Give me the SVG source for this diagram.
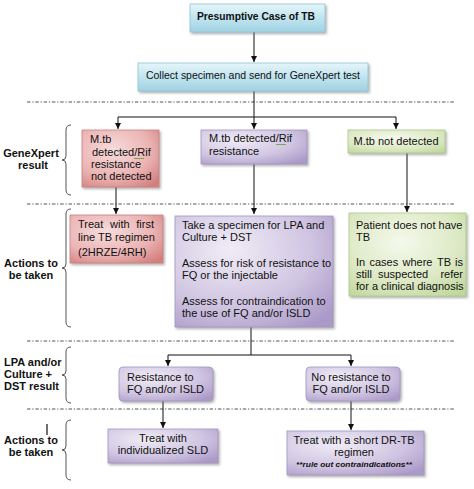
<svg xmlns="http://www.w3.org/2000/svg" width="474" height="489" viewBox="0 0 474 489">
<defs>
<style>
.t{font-family:"Liberation Sans",Arial,sans-serif;font-size:11px;fill:#111}
.b{font-weight:bold}
.c{text-anchor:middle}
.e{text-anchor:end}
.lbl{font-family:"Liberation Sans",Arial,sans-serif;font-size:11px;font-weight:bold;fill:#111;text-anchor:middle}
.dash{stroke:#555;stroke-width:1;stroke-dasharray:3.5,1.8,1.2,1.8;fill:none}
.brace{stroke:#555;stroke-width:1;fill:none}
.con{stroke:#111;stroke-width:1;fill:none}
.arr{marker-end:url(#ah)}
.blue{fill:url(#gBlue);stroke:#8fc3d4;stroke-width:0.8}
.red{fill:url(#gRed);stroke:#c98080;stroke-width:0.8}
.pur{fill:url(#gPur);stroke:#a294c0;stroke-width:0.8}
.grn{fill:url(#gGrn);stroke:#aec78a;stroke-width:0.8}
.box{filter:url(#sh)}
.wavy{stroke:#5e9e32;stroke-width:0.8;fill:none}
</style>
<marker id="ah" viewBox="0 0 6 6" refX="6" refY="3" markerWidth="6" markerHeight="6" markerUnits="userSpaceOnUse" orient="auto">
<path d="M0,0 L6,3 L0,6 z" fill="#111"/>
</marker>
<linearGradient id="gBlue" x1="0" y1="0" x2="0" y2="1">
<stop offset="0" stop-color="#e6f5fa"/>
<stop offset="0.5" stop-color="#c0e4ef"/>
<stop offset="1" stop-color="#a0d2e2"/>
</linearGradient>
<radialGradient id="gRed" cx="0.4" cy="0.35" r="0.8">
<stop offset="0" stop-color="#f7dcdc"/>
<stop offset="0.6" stop-color="#ebb4b4"/>
<stop offset="1" stop-color="#d47e7e"/>
</radialGradient>
<radialGradient id="gPur" cx="0.35" cy="0.3" r="0.85">
<stop offset="0" stop-color="#f0ecf6"/>
<stop offset="0.6" stop-color="#d0c5e2"/>
<stop offset="1" stop-color="#ab9ac8"/>
</radialGradient>
<radialGradient id="gGrn" cx="0.45" cy="0.35" r="0.8">
<stop offset="0" stop-color="#f5f9ec"/>
<stop offset="0.6" stop-color="#dde9c5"/>
<stop offset="1" stop-color="#bed69a"/>
</radialGradient>
<filter id="sh" x="-10%" y="-10%" width="125%" height="135%">
<feDropShadow dx="1.5" dy="1.8" stdDeviation="0.9" flood-color="#777" flood-opacity="0.55"/>
</filter>
</defs>
<rect width="474" height="489" fill="#ffffff"/>

<g id="separators">
<line class="dash" x1="27" y1="102" x2="455" y2="102"/>
<line class="dash" x1="27" y1="204" x2="455" y2="204"/>
<line class="dash" x1="27" y1="341" x2="455" y2="341"/>
<line class="dash" x1="27" y1="409" x2="455" y2="409"/>
</g>

<g id="braces">
<path class="brace" d="M71,125 Q66,125 66,130 L66,156 Q66,160 62,160 Q66,160 66,164 L66,190 Q66,195 71,195"/>
<path class="brace" d="M71,209 Q66,209 66,214 L66,264 Q66,268 62,268 Q66,268 66,272 L66,322 Q66,327 71,327"/>
<path class="brace" d="M71,347 Q66,347 66,352 L66,371 Q66,375 62,375 Q66,375 66,379 L66,398 Q66,403 71,403"/>
<path class="brace" d="M71,420 Q66,420 66,425 L66,446 Q66,450 62,450 Q66,450 66,454 L66,475 Q66,480 71,480"/>
</g>

<g id="row-labels">
<text class="lbl" x="31" y="157">GeneXpert</text>
<text class="lbl" x="33" y="169">result</text>
<text class="lbl" x="31" y="267">Actions to</text>
<text class="lbl" x="31" y="279">be taken</text>
<text class="lbl" x="4" y="366" style="text-anchor:start">LPA and/or</text>
<text class="lbl" x="4" y="378" style="text-anchor:start">Culture +</text>
<text class="lbl" x="4" y="390" style="text-anchor:start">DST result</text>
<text class="lbl" x="31" y="444">Actions to</text>
<text class="lbl" x="31" y="456">be taken</text>
<line x1="47" y1="424" x2="47" y2="435" stroke="#111" stroke-width="1.2"/>
</g>

<g id="connectors">
<line class="con arr" x1="254" y1="32" x2="254" y2="62"/>
<line class="con" x1="254" y1="91" x2="254" y2="117"/>
<line class="con" x1="118" y1="117" x2="396" y2="117"/>
<line class="con arr" x1="118" y1="117" x2="118" y2="129"/>
<line class="con arr" x1="254" y1="117" x2="254" y2="129"/>
<line class="con arr" x1="396" y1="117" x2="396" y2="129"/>
<line class="con arr" x1="116" y1="187" x2="116" y2="214"/>
<line class="con arr" x1="254" y1="164" x2="254" y2="214"/>
<line class="con arr" x1="407" y1="153" x2="407" y2="212"/>
<line class="con" x1="251" y1="327" x2="251" y2="355"/>
<line class="con" x1="168" y1="355" x2="351" y2="355"/>
<line class="con arr" x1="168" y1="355" x2="168" y2="366"/>
<line class="con arr" x1="351" y1="355" x2="351" y2="366"/>
<line class="con arr" x1="163" y1="401" x2="163" y2="428"/>
<line class="con arr" x1="351" y1="401" x2="351" y2="430"/>
</g>

<g id="n-presumptive">
<rect class="blue box" x="190" y="4" width="135" height="28"/>
<text class="t b c" x="256" y="20" textLength="118" lengthAdjust="spacingAndGlyphs">Presumptive Case of TB</text>
</g>

<g id="n-collect">
<rect class="blue box" x="138" y="63" width="230" height="28"/>
<text class="t c" x="253" y="79" textLength="214" lengthAdjust="spacingAndGlyphs">Collect specimen and send for GeneXpert test</text>
</g>

<g id="n-rif-not-detected">
<rect class="red box" x="82" y="130" width="77" height="57"/>
<text class="t" x="90" y="143">M.tb</text>
<text class="t" x="92" y="156">detected/Rif</text>
<path class="wavy" d="M134,158 l1,1 l1,-1 l1,1 l1,-1 l1,1 l1,-1 l1,1 l1,-1 l1,1 l1,-1"/>
<text class="t" x="91" y="168">resistance</text>
<text class="t" x="91" y="180">not detected</text>
</g>

<g id="n-rif-resistance">
<rect class="pur box" x="201" y="130" width="106" height="34"/>
<text class="t" x="209" y="142">M.tb detected/Rif</text>
<path class="wavy" d="M276,144 l1,1 l1,-1 l1,1 l1,-1 l1,1 l1,-1 l1,1 l1,-1 l1,1 l1,-1"/>
<text class="t" x="209" y="155">resistance</text>
</g>

<g id="n-not-detected">
<rect class="grn box" x="348" y="130" width="97" height="23"/>
<text class="t c" x="396" y="145">M.tb not detected</text>
</g>

<g id="n-first-line">
<rect class="red box" x="70" y="215" width="93" height="48"/>
<text class="t" x="78" y="228">Treat</text>
<text class="t" x="110" y="228">with</text>
<text class="t e" x="154" y="228">first</text>
<text class="t" x="78" y="241">line TB regimen</text>
<text class="t" x="78" y="256">(2HRZE/4RH)</text>
</g>

<g id="n-lpa-specimen">
<rect class="pur box" x="175" y="216" width="158" height="111"/>
<text class="t" x="182" y="229">Take a specimen for LPA and</text>
<text class="t" x="182" y="241">Culture + DST</text>
<text class="t" x="182" y="267">Assess for risk of resistance to</text>
<text class="t" x="182" y="279">FQ or the injectable</text>
<text class="t" x="182" y="305">Assess for contraindication to</text>
<text class="t" x="182" y="317">the use of FQ and/or ISLD</text>
</g>

<g id="n-no-tb">
<rect class="grn box" x="349" y="213" width="117" height="83"/>
<text class="t" x="356" y="229">Patient does not have</text>
<text class="t" x="356" y="241">TB</text>
<text class="t" x="356" y="266">In</text>
<text class="t" x="369.5" y="266">cases</text>
<text class="t" x="402.5" y="266">where</text>
<text class="t" x="437" y="266">TB</text>
<text class="t e" x="463" y="266">is</text>
<text class="t" x="356" y="278">still</text>
<text class="t" x="378" y="278">suspected</text>
<text class="t e" x="463" y="278">refer</text>
<text class="t" x="356" y="290">for a clinical diagnosis</text>
</g>

<g id="n-resistance">
<rect class="pur box" x="119" y="367" width="94" height="34" rx="4"/>
<text class="t" x="127" y="381">Resistance to</text>
<text class="t" x="127" y="393">FQ and/or ISLD</text>
</g>

<g id="n-no-resistance">
<rect class="pur box" x="306" y="367" width="94" height="34" rx="4"/>
<text class="t c" x="351" y="381">No resistance to</text>
<text class="t c" x="351" y="393">FQ and/or ISLD</text>
</g>

<g id="n-individualized">
<rect class="pur box" x="108" y="429" width="110" height="34"/>
<text class="t c" x="163" y="442">Treat with</text>
<text class="t c" x="163" y="454">individualized SLD</text>
</g>

<g id="n-short-regimen">
<rect class="pur box" x="287" y="431" width="137" height="44"/>
<text class="t c" x="354" y="444">Treat with a short DR-TB</text>
<text class="t c" x="354" y="456">regimen</text>
<text class="t c" x="354" y="467" style="font-size:7.5px;font-weight:bold;font-style:italic" textLength="116" lengthAdjust="spacingAndGlyphs">**rule out contraindications**</text>
</g>
</svg>
